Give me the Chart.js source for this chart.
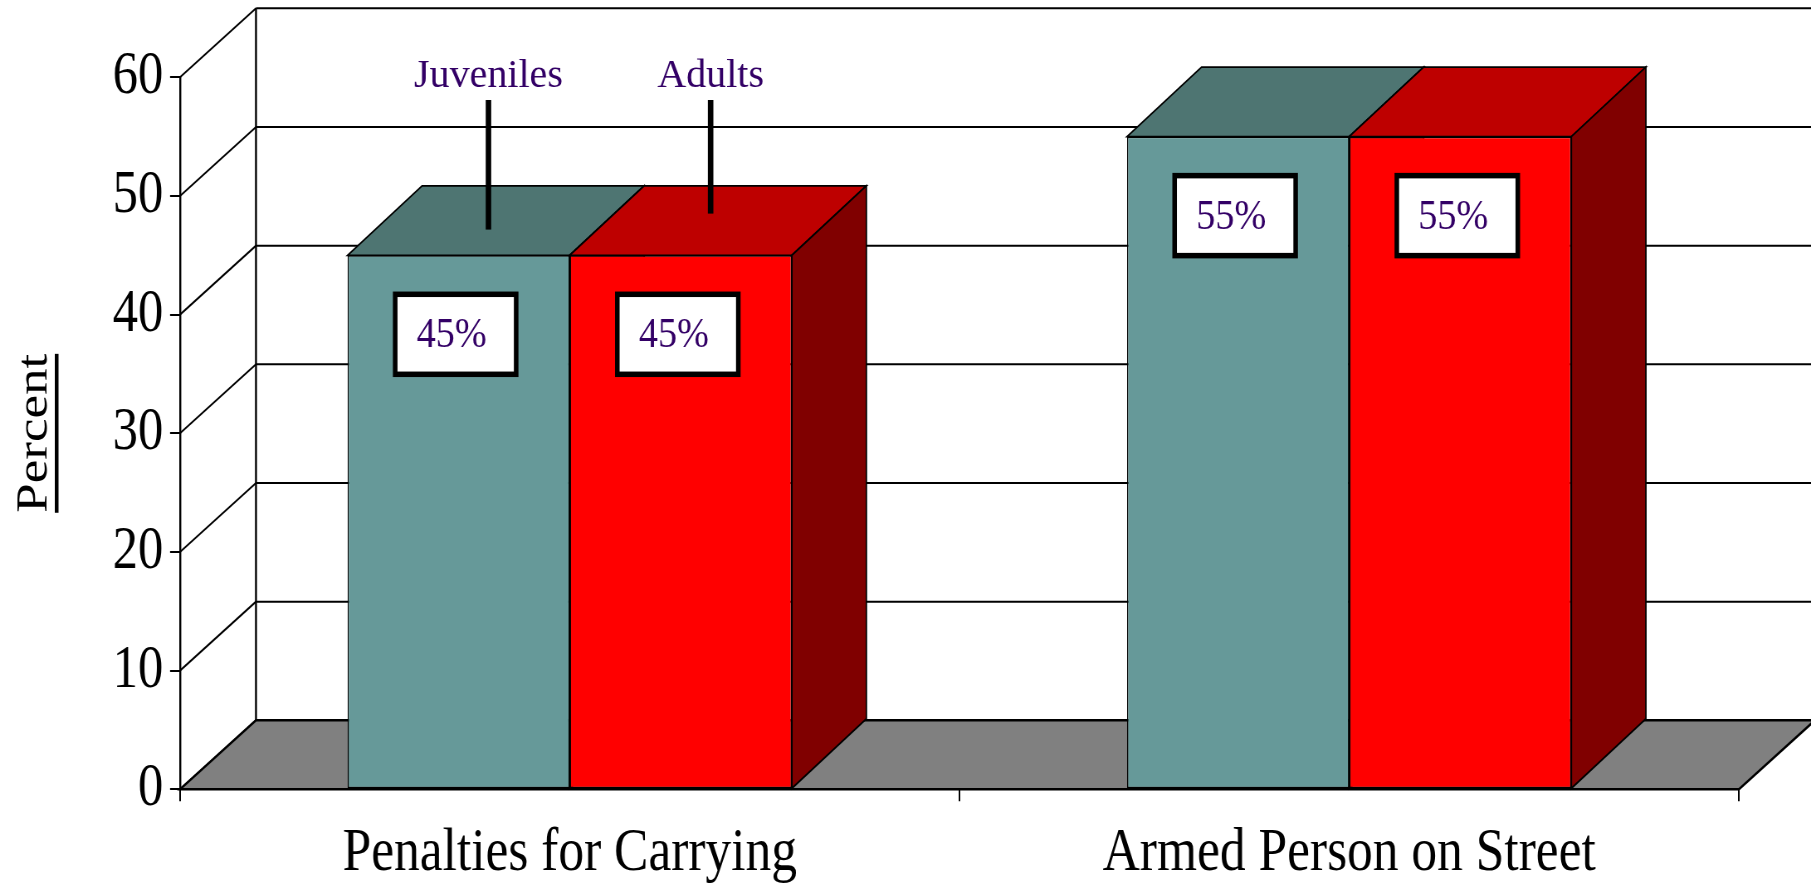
<!DOCTYPE html>
<html><head><meta charset="utf-8">
<script src="https://cdn.jsdelivr.net/npm/chart.js@4.4.1/dist/chart.umd.min.js"></script>
<style>html,body{margin:0;padding:0;background:#fff;overflow:hidden}canvas{display:block}</style>
</head><body>
<canvas id="c" width="2182" height="887" style="width:1811px;height:887px"></canvas>
<script>
// ---- data ----
const categories = ['Penalties for Carrying', 'Armed Person on Street'];
const seriesNames = ['Juveniles', 'Adults'];
const juveniles = [45, 55];
const adults = [45, 55];
const yTickValues = [0, 10, 20, 30, 40, 50, 60];
const yTitle = 'Percent';

// ---- style ----
const SX = 0.83;               // reference is horizontally condensed
const W = 2182, H = 887;
const FRONT = ['#669999', '#FF0000'];
const TOPC = ['#4E7572', '#BE0000'];
const SIDEC = ['#3F5F5D', '#800000'];
const WALL_DX = 76 / SX, WALL_DY = 69;
const BAR_DX = 74.5 / SX, BAR_DY = 69.5;
const SERIF = "'Liberation Serif', 'Times New Roman', serif";
const TXT = '#330066';
const CALLOUT_FRAC = [0.37, 0.6];

const threeD = {
  id: 'threeD',
  beforeDatasetsDraw(chart) {
    const {ctx, chartArea: a, scales: {y}} = chart;
    const y0 = y.getPixelForValue(0);
    const yMax = y.getPixelForValue(yTickValues[yTickValues.length - 1]);
    ctx.save();
    ctx.strokeStyle = '#000';
    ctx.lineWidth = 2;
    yTickValues.forEach(v => {
      const py = y.getPixelForValue(v);
      ctx.beginPath();
      ctx.moveTo(a.left + WALL_DX, py - WALL_DY);
      ctx.lineTo(W + 20, py - WALL_DY);
      ctx.stroke();
      ctx.beginPath();
      ctx.moveTo(a.left, py);
      ctx.lineTo(a.left + WALL_DX, py - WALL_DY);
      ctx.stroke();
    });
    ctx.lineWidth = 2.4;
    ctx.beginPath();
    ctx.moveTo(a.left + WALL_DX, yMax - WALL_DY);
    ctx.lineTo(a.left + WALL_DX, y0 - WALL_DY);
    ctx.stroke();
    // floor
    ctx.beginPath();
    ctx.moveTo(a.left, y0);
    ctx.lineTo(a.right, y0);
    ctx.lineTo(a.right + WALL_DX, y0 - WALL_DY);
    ctx.lineTo(a.left + WALL_DX, y0 - WALL_DY);
    ctx.closePath();
    ctx.fillStyle = '#808080';
    ctx.fill();
    ctx.lineWidth = 2.4;
    ctx.stroke();
    // top and side faces
    chart.data.datasets.forEach((ds, di) => {
      chart.getDatasetMeta(di).data.forEach(bar => {
        const p = bar.getProps(['x', 'y', 'base', 'width'], true);
        const l = p.x - p.width / 2, r = p.x + p.width / 2, t = p.y, b = p.base;
        ctx.lineWidth = 1.8;
        ctx.strokeStyle = '#000';
        ctx.beginPath();
        ctx.moveTo(l, t); ctx.lineTo(r, t);
        ctx.lineTo(r + BAR_DX, t - BAR_DY); ctx.lineTo(l + BAR_DX, t - BAR_DY);
        ctx.closePath();
        ctx.fillStyle = TOPC[di]; ctx.fill(); ctx.stroke();
        ctx.beginPath();
        ctx.moveTo(r, t); ctx.lineTo(r, b);
        ctx.lineTo(r + BAR_DX, b - BAR_DY); ctx.lineTo(r + BAR_DX, t - BAR_DY);
        ctx.closePath();
        ctx.fillStyle = SIDEC[di]; ctx.fill(); ctx.stroke();
      });
    });
    ctx.restore();
  },
  afterDatasetsDraw(chart) {
    const {ctx, scales: {y}} = chart;
    ctx.save();
    // value boxes
    chart.data.datasets.forEach((ds, di) => {
      chart.getDatasetMeta(di).data.forEach((bar, i) => {
        const p = bar.getProps(['x', 'y'], true);
        const bw = 121 / SX, bh = 80;
        const bcx = p.x - 3 / SX;
        const bx = bcx - bw / 2, by = p.y + 39;
        ctx.fillStyle = '#fff';
        ctx.fillRect(bx, by, bw, bh);
        ctx.lineWidth = 5.5;
        ctx.strokeStyle = '#000';
        ctx.strokeRect(bx, by, bw, bh);
        ctx.save();
        ctx.translate(bcx - 4 / SX, by + bh / 2 + 13);
        ctx.scale(0.91 / SX, 1);
        ctx.font = `42px ${SERIF}`;
        ctx.fillStyle = TXT;
        ctx.textAlign = 'center';
        ctx.textBaseline = 'alphabetic';
        ctx.fillText(ds.data[i] + '%', 0, 0);
        ctx.restore();
      });
    });
    // callouts (series names)
    chart.data.datasets.forEach((ds, di) => {
      const p = chart.getDatasetMeta(di).data[0].getProps(['x', 'y'], true);
      const lx = p.x + BAR_DX * 0.4;
      const lyBottom = p.y - BAR_DY * CALLOUT_FRAC[di];
      ctx.fillStyle = '#000';
      const lw = 5.5 / SX;
      ctx.fillRect(lx - lw / 2, 100, lw, lyBottom - 100);
      ctx.save();
      ctx.translate(lx, 86.7);
      ctx.scale(1 / SX, 1);
      ctx.font = `40px ${SERIF}`;
      ctx.fillStyle = TXT;
      ctx.textAlign = 'center';
      ctx.textBaseline = 'alphabetic';
      ctx.fillText(ds.label, 0, 0);
      ctx.restore();
    });
    // underline for y title
    ctx.font = `53px ${SERIF}`;
    const tw = ctx.measureText(yTitle).width;
    const cy = (y.top + y.bottom) / 2;
    ctx.fillStyle = '#000';
    ctx.fillRect(66, cy - tw / 2, 4.5, tw);
    ctx.restore();
  }
};

new Chart(document.getElementById('c'), {
  type: 'bar',
  data: {
    labels: categories,
    datasets: [
      {label: seriesNames[0], data: juveniles, backgroundColor: FRONT[0], borderColor: '#000', borderWidth: 1.5, borderSkipped: false, barPercentage: 1, categoryPercentage: 0.57},
      {label: seriesNames[1], data: adults, backgroundColor: FRONT[1], borderColor: '#000', borderWidth: 1.5, borderSkipped: false, barPercentage: 1, categoryPercentage: 0.57}
    ]
  },
  options: {
    responsive: false,
    devicePixelRatio: 1,
    animation: false,
    layout: {padding: {left: 0, right: W - 1739 / SX, top: 77.3, bottom: 0}},
    plugins: {legend: {display: false}, tooltip: {enabled: false}},
    scales: {
      x: {
        afterFit(s) { s.height = H - 789.3; },
        grid: {offset: true, drawOnChartArea: false, drawTicks: true, tickLength: 12, color: '#000', lineWidth: 2},
        border: {display: true, color: '#000', width: 2},
        ticks: {color: '#000', font: {family: SERIF, size: 62}, padding: 15, maxRotation: 0, autoSkip: false}
      },
      y: {
        min: 0, max: 60,
        afterFit(s) { s.width = 180 / SX; },
        afterBuildTicks(s) { s.ticks = yTickValues.map(v => ({value: v})); },
        grid: {drawOnChartArea: false, drawTicks: true, tickLength: 12, color: '#000', lineWidth: 2},
        border: {display: true, color: '#000', width: 2.4},
        ticks: {color: '#000', font: {family: SERIF, size: 61}, padding: 8},
        title: {display: true, text: yTitle, color: '#000', font: {family: SERIF, size: 53}, padding: {top: 10.5, bottom: 0}}
      }
    }
  },
  plugins: [threeD]
});
</script>
</body></html>
